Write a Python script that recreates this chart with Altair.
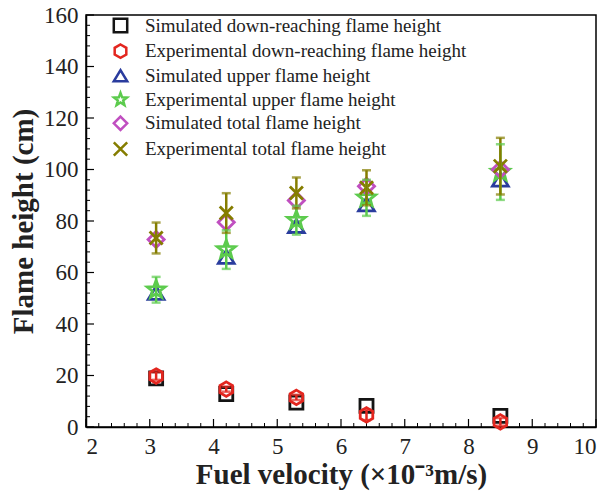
import math
import altair as alt
import pandas as pd

# ---------------- data ----------------
velocity = [3.1, 4.2, 5.3, 6.4, 8.5]

sim_down = [18.9, 12.8, 9.5, 8.2, 4.3]
exp_down = [19.8, 14.7, 11.5, 4.7, 2.0]
exp_down_err = [1.5, 1.0, 1.0, 2.0, 1.5]

sim_upper = [52.0, 66.0, 78.0, 86.4, 96.0]
exp_upper = [53.3, 68.9, 80.3, 89.0, 99.0]
exp_upper_err = [5.0, 7.5, 5.6, 7.0, 10.8]

sim_total = [72.8, 79.5, 88.0, 93.5, 100.0]
exp_total = [73.4, 83.1, 90.9, 92.9, 101.3]
exp_total_err = [6.0, 7.7, 6.0, 6.8, 11.0]

series_names = [
    "Simulated down-reaching flame height",
    "Experimental down-reaching flame height",
    "Simulated upper flame height",
    "Experimental upper flame height",
    "Simulated total flame height",
    "Experimental total flame height",
]
series_values = [sim_down, exp_down, sim_upper, exp_upper, sim_total, exp_total]
series_errors = [None, exp_down_err, None, exp_upper_err, None, exp_total_err]

x_major = [2, 3, 4, 5, 6, 7, 8, 9, 10]
y_major = [0, 20, 40, 60, 80, 100, 120, 140, 160]

# ---------------- styles ----------------
colors = ["#141414", "#e3261f", "#2a3c9e", "#5ccb4d", "#c04fc0", "#857d00"]
sizes = [170, 210, 250, 350, 260, 170]


def star_path(outer=1.0, inner=0.42):
    pts = []
    for i in range(10):
        r = outer if i % 2 == 0 else inner
        a = -math.pi / 2 + i * math.pi / 5
        pts.append((r * math.cos(a), r * math.sin(a)))
    return "M" + "L".join(f"{x:.3f},{y:.3f}" for x, y in pts) + "Z"


hexagon = "M0,-1L0.866,-0.5L0.866,0.5L0,1L-0.866,0.5L-0.866,-0.5Z"
shapes = [
    "M-1,-1L1,-1L1,1L-1,1Z",
    hexagon,
    "M0,-0.85L1,0.8L-1,0.8Z",
    star_path(),
    "M0,-1L1,0L0,1L-1,0Z",
    "M-1,-1L1,1M-1,1L1,-1",
]

rows = []
err_rows = []
for name, vals, errs, sz, col in zip(series_names, series_values, series_errors, sizes, colors):
    for i, (xv, yv) in enumerate(zip(velocity, vals)):
        rows.append({"series": name, "x": xv, "y": yv, "sz": sz})
        if errs is not None:
            err_rows.append({"col": col, "x": xv, "lo": yv - errs[i], "hi": yv + errs[i]})

df = pd.DataFrame(rows)
edf = pd.DataFrame(err_rows)

minor_x = [round(2 + 0.2 * i, 1) for i in range(41) if i % 5 != 0]
minor_y = [4 * i for i in range(41) if i % 5 != 0]

W, H = 510, 412
FONT = "Liberation Serif"

xscale = alt.Scale(domain=[2, 10], nice=False, zero=False)
yscale = alt.Scale(domain=[0, 160], nice=False, zero=False)
color_scale = alt.Scale(domain=series_names, range=colors)
shape_scale = alt.Scale(domain=series_names, range=shapes)

xaxis = alt.Axis(values=x_major, format="d", title="Fuel velocity (×10⁻³m/s)", tickSize=0,
                 labelPadding=8, grid=False, titlePadding=2)
yaxis = alt.Axis(values=y_major, format="d", title="Flame height (cm)", tickSize=0,
                 labelPadding=8, grid=False, titlePadding=5)

legend = alt.Legend(
    title=None, orient="none", legendX=25, legendY=1,
    symbolFillColor="transparent",
)

points = alt.Chart(df).mark_point(filled=False, strokeWidth=2.8, opacity=1).encode(
    x=alt.X("x:Q", scale=xscale, axis=xaxis),
    y=alt.Y("y:Q", scale=yscale, axis=yaxis),
    color=alt.Color("series:N", scale=color_scale, sort=series_names, legend=legend),
    shape=alt.Shape("series:N", scale=shape_scale, sort=series_names, legend=legend),
    size=alt.Size("sz:Q", scale=None, legend=None),
)

err_color = alt.Color("col:N", scale=None, legend=None)

err_rule = alt.Chart(edf).mark_rule(strokeWidth=2.5).encode(
    x="x:Q", y="lo:Q", y2="hi:Q", color=err_color)
cap_lo = alt.Chart(edf).mark_tick(thickness=2.5, size=9, orient="horizontal").encode(
    x="x:Q", y="lo:Q", color=err_color)
cap_hi = alt.Chart(edf).mark_tick(thickness=2.5, size=9, orient="horizontal").encode(
    x="x:Q", y="hi:Q", color=err_color)

ytick_major = alt.Chart(pd.DataFrame({"v": y_major})).mark_rule(color="black", strokeWidth=1.2).encode(
    y="v:Q", x=alt.value(0), x2=alt.value(8))
ytick_minor = alt.Chart(pd.DataFrame({"v": minor_y})).mark_rule(color="black", strokeWidth=1).encode(
    y="v:Q", x=alt.value(0), x2=alt.value(4))
xtick_major = alt.Chart(pd.DataFrame({"v": x_major})).mark_rule(color="black", strokeWidth=1.2).encode(
    x="v:Q", y=alt.value(H), y2=alt.value(H - 8))
xtick_minor = alt.Chart(pd.DataFrame({"v": minor_x})).mark_rule(color="black", strokeWidth=1).encode(
    x="v:Q", y=alt.value(H), y2=alt.value(H - 4))

chart = alt.layer(
    ytick_major, ytick_minor, xtick_major, xtick_minor,
    points, err_rule, cap_lo, cap_hi,
).properties(
    width=W, height=H,
    autosize=alt.AutoSizeParams(type="none"),
    padding={"left": 78, "top": 7, "right": 4, "bottom": 70},
).configure_view(
    stroke="black", strokeWidth=1.5,
).configure_axis(
    domainColor="black", domainWidth=1.5,
    labelFont=FONT, labelFontSize=23, labelColor="#222",
    titleFont=FONT, titleFontSize=29, titleFontWeight="bold", titleColor="#222",
).configure_legend(
    labelFont=FONT, labelFontSize=19, labelColor="#222",
    symbolSize=180, symbolStrokeWidth=2.5, labelOffset=15,
    rowPadding=0.7, labelLimit=400, padding=0,
)

chart.save("out.html", embed_options={"renderer": "svg", "actions": False})
